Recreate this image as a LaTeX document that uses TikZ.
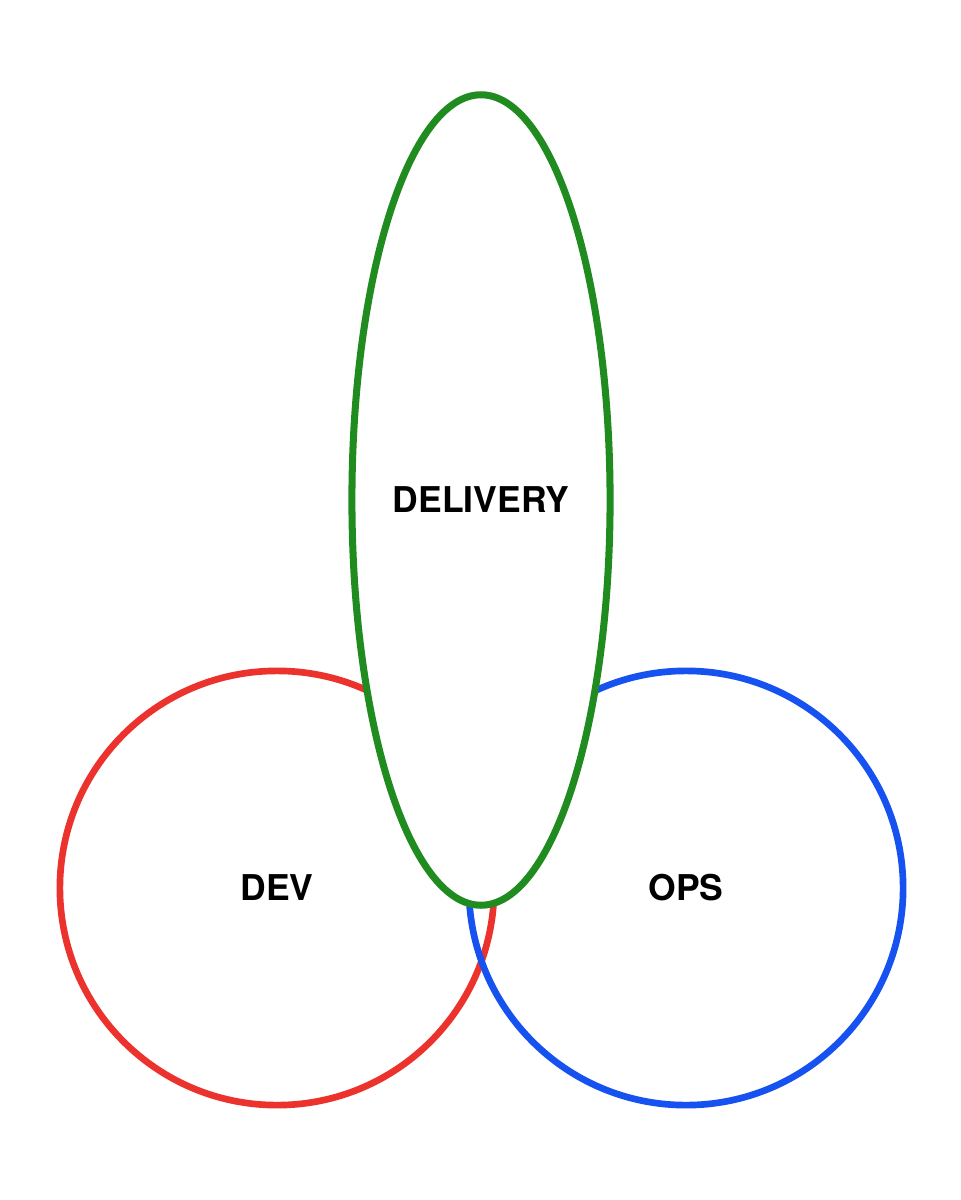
\documentclass[tikz,border=0pt]{standalone}
\usepackage{fontspec}
\setmainfont{TeX Gyre Heros}
\usetikzlibrary{shapes.geometric}
\definecolor{devred}{RGB}{236,50,44}
\definecolor{opsblue}{RGB}{22,82,240}
\definecolor{delgreen}{RGB}{32,140,32}
\begin{document}
\begin{tikzpicture}[x=0.01cm, y=-0.01cm,
  ring/.style={circle, line width=1.9pt, minimum size=4.34cm, inner sep=0pt, text=black, font=\fontsize{10.1}{12}\selectfont\bfseries},
  oval/.style={ellipse, line width=2pt, minimum width=2.58cm, minimum height=8.1cm, inner sep=0pt, fill=white, text=black, font=\fontsize{10.1}{12}\selectfont\bfseries}]
\useasboundingbox (0,0) rectangle (960,1200);
\node[ring, draw=devred] (dev) at (277,888){DEV};
\node[ring, draw=opsblue] (ops) at (686,888){OPS};
\node[oval, draw=delgreen] (delivery) at (481,500){DELIVERY};
\end{tikzpicture}
\end{document}
